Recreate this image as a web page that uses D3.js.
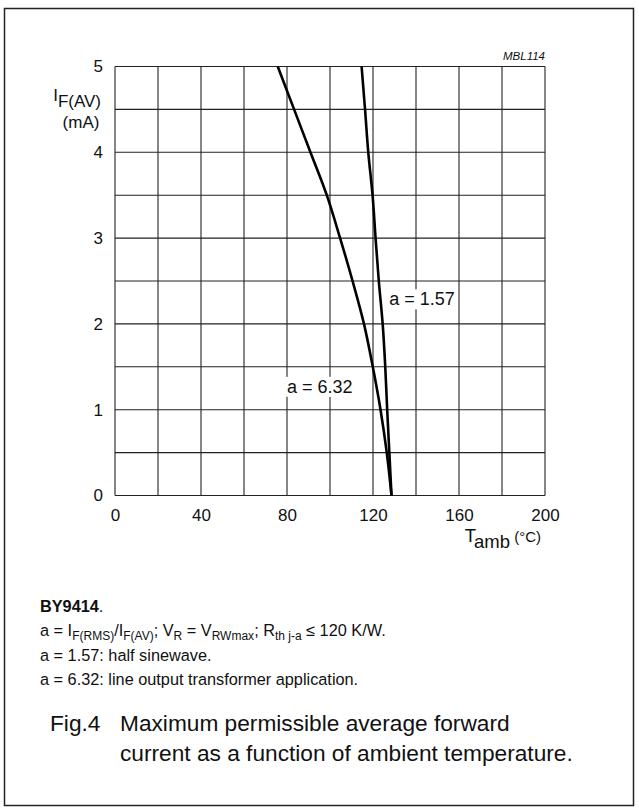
<!DOCTYPE html>
<html>
<head>
<meta charset="utf-8">
<script src="https://cdn.jsdelivr.net/npm/d3@7"></script>
<style>
  body { margin: 0; background: #fff; }
  svg { display: block; font-family: "Liberation Sans", Arial, Helvetica, sans-serif; }
</style>
</head>
<body>
<div id="chart"></div>
<script>
// forward current (mA) steps
var currents = [0, 0.5, 1, 1.5, 2, 2.5, 3, 3.5, 4, 4.5, 5];
// ambient temperature for each current step, per form factor
var tempA157 = [128.6, 127.6, 126.6, 125.7, 124.5, 122.7, 121.2, 119.8, 117.8, 116.3, 114.7];
var tempA632 = [128.6, 126.4, 123.5, 119.9, 115.8, 110.5, 104.7, 98.5, 90.9, 83.3, 75.7];
var xTicks = [0, 40, 80, 120, 160, 200];
var yTicks = [0, 1, 2, 3, 4, 5];
var curveLabels = ["a = 1.57", "a = 6.32"];
var notes = [
  "a = 1.57: half sinewave.",
  "a = 6.32: line output transformer application."
];

var W = 639, H = 812;
var svg = d3.select("#chart").append("svg")
    .attr("width", W)
    .attr("height", H);

svg.append("rect").attr("width", W).attr("height", H).attr("fill", "#fff");
// outer frame
svg.append("rect")
    .attr("x", 4.5).attr("y", 8.5)
    .attr("width", 629).attr("height", 797)
    .attr("fill", "none").attr("stroke", "#222").attr("stroke-width", 1.5);

var x = d3.scaleLinear().domain([0, 200]).range([115, 545]);
var y = d3.scaleLinear().domain([0, 5]).range([495.5, 66.5]);

// grid
var grid = svg.append("g").attr("stroke", "#222").attr("stroke-width", 1.1);
grid.selectAll(".vx")
    .data(d3.range(0, 201, 20))
    .enter().append("line")
    .attr("x1", d => x(d)).attr("x2", d => x(d))
    .attr("y1", y(0)).attr("y2", y(5));
grid.selectAll(".hy")
    .data(d3.range(0, 11).map(d => d / 2))
    .enter().append("line")
    .attr("y1", d => y(d)).attr("y2", d => y(d))
    .attr("x1", x(0)).attr("x2", x(200));

// axes (labels only)
var xAxis = svg.append("g")
    .attr("transform", "translate(0," + y(0) + ")")
    .call(d3.axisBottom(x).tickValues(xTicks).tickSize(0).tickPadding(13).tickFormat(d3.format("d")));
var yAxis = svg.append("g")
    .attr("transform", "translate(" + x(0) + ",0)")
    .call(d3.axisLeft(y).tickValues(yTicks).tickSize(0).tickPadding(12).tickFormat(d3.format("d")));
[xAxis, yAxis].forEach(function (g) {
    g.select(".domain").remove();
    g.selectAll("text")
        .attr("font-size", 17)
        .attr("fill", "#111")
        .style("font-family", "Liberation Sans, Arial, sans-serif");
});

// curves
var line = d3.line()
    .x(d => x(d.t))
    .y(d => y(d.i))
    .curve(d3.curveMonotoneY);

[tempA157, tempA632].forEach(function (temps) {
    var pts = currents.map((c, k) => ({ i: c, t: temps[k] }));
    svg.append("path")
        .datum(pts)
        .attr("d", line)
        .attr("fill", "none")
        .attr("stroke", "#000")
        .attr("stroke-width", 2.6);
});

// curve labels with white background
var labelPos = [{ t: 127.5, i: 2.29 }, { t: 80, i: 1.27 }];
curveLabels.forEach(function (txt, k) {
    var g = svg.append("g");
    var t = g.append("text")
        .attr("x", x(labelPos[k].t))
        .attr("y", y(labelPos[k].i))
        .attr("dy", "0.35em")
        .attr("font-size", 18)
        .attr("fill", "#111")
        .text(txt);
    var bb = t.node().getBBox();
    g.insert("rect", "text")
        .attr("x", bb.x - 3).attr("y", bb.y)
        .attr("width", bb.width + 6).attr("height", bb.height)
        .attr("fill", "#fff");
});

// code tag
svg.append("text")
    .attr("x", 545).attr("y", 60)
    .attr("text-anchor", "end")
    .attr("font-size", 11.5)
    .attr("font-style", "italic")
    .attr("fill", "#111")
    .text("MBL114");

// text with subscripts: runs of [text, isSub]
function richText(sel, runs, subSize, shift) {
    var cur = 0;
    runs.forEach(function (r) {
        var target = r[1] ? shift : 0;
        var ts = sel.append("tspan").attr("dy", target - cur).text(r[0]);
        if (r[1]) ts.attr("font-size", subSize);
        cur = target;
    });
}

// y axis title
var yt = svg.append("text")
    .attr("x", 101).attr("y", 101)
    .attr("text-anchor", "end")
    .attr("font-size", 17)
    .attr("fill", "#111");
richText(yt, [["I", false], ["F(AV)", true]], 17, 6);
svg.append("text")
    .attr("x", 81).attr("y", 128)
    .attr("text-anchor", "middle")
    .attr("font-size", 17)
    .attr("fill", "#111")
    .text("(mA)");

// x axis title
var xt = svg.append("text")
    .attr("x", 541).attr("y", 542)
    .attr("text-anchor", "end")
    .attr("font-size", 18.5)
    .attr("fill", "#111");
richText(xt, [["T", false], ["amb", true]], 18.5, 6);
xt.append("tspan").attr("dy", -6).attr("font-size", 15).text("\u00a0(°C)");

// notes under the chart
var nx = 40, nSize = 16.3;
svg.append("text")
    .attr("x", nx).attr("y", 612)
    .attr("font-size", nSize)
    .attr("fill", "#111")
    .call(function (t) {
        t.append("tspan").attr("font-weight", "bold").text("BY9414");
        t.append("tspan").text(".");
    });

var f1 = svg.append("text")
    .attr("x", nx).attr("y", 636)
    .attr("font-size", nSize)
    .attr("fill", "#111");
richText(f1, [
    ["a = I", false], ["F(RMS)", true], ["/I", false], ["F(AV)", true],
    ["; V", false], ["R", true], [" = V", false], ["RWmax", true],
    ["; R", false], ["th j-a", true], [" \u2264 120 K/W.", false]
], 12, 4);

notes.forEach(function (n, k) {
    svg.append("text")
        .attr("x", nx).attr("y", 661 + k * 24)
        .attr("font-size", nSize)
        .attr("fill", "#111")
        .text(n);
});

// figure caption
var capSize = 22.7;
svg.append("text")
    .attr("x", 50).attr("y", 731)
    .attr("font-size", capSize)
    .attr("fill", "#111")
    .text("Fig.4");
svg.append("text")
    .attr("x", 120).attr("y", 731)
    .attr("font-size", capSize)
    .attr("fill", "#111")
    .text("Maximum permissible average forward");
svg.append("text")
    .attr("x", 120).attr("y", 761)
    .attr("font-size", capSize)
    .attr("fill", "#111")
    .text("current as a function of ambient temperature.");
</script>
</body>
</html>
